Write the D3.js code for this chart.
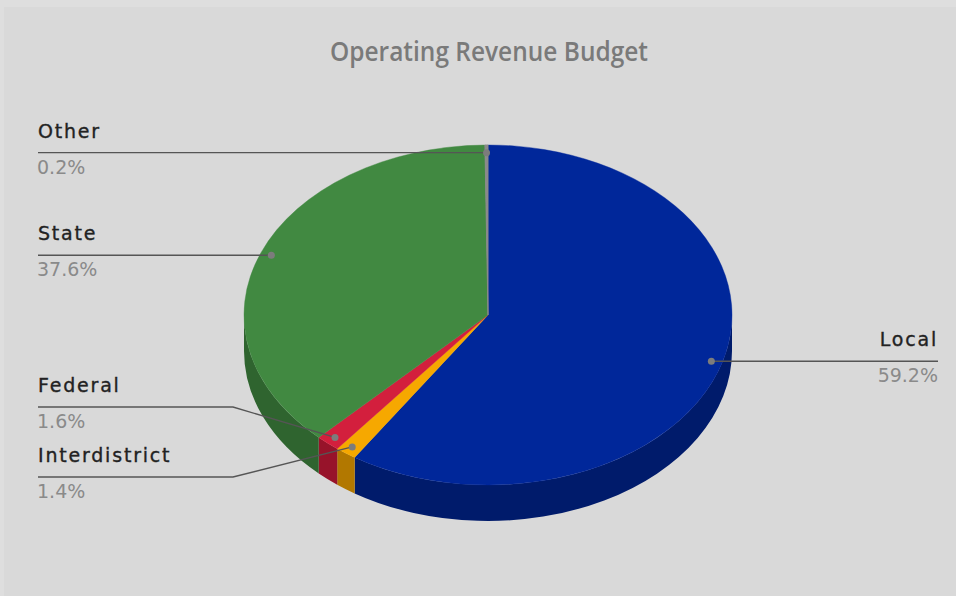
<!DOCTYPE html>
<html>
<head>
<meta charset="utf-8">
<script src="https://cdn.jsdelivr.net/npm/d3@7"></script>
<style>
  html, body { margin: 0; padding: 0; background: #dedede; }
  svg { display: block; }
</style>
</head>
<body>
<svg id="chart" width="956" height="596"></svg>
<script>
// Revenue sources, in drawing order (clockwise from 12 o'clock)
const categories = ["Local", "Interdistrict", "Federal", "State", "Other"];
const shares = [59.2, 1.4, 1.6, 37.6, 0.2];
const topColors = ["#00279a", "#f6a800", "#d31f3d", "#418941", "#8a8a8a"];
const sideColors = ["#001b6b", "#b27800", "#97132a", "#2f642f", "#666666"];

const W = 956, H = 596;
const svg = d3.select("#chart");

// panel background
svg.append("rect").attr("width", W).attr("height", H).attr("fill", "#dedede");
svg.append("rect").attr("x", 4).attr("y", 7).attr("width", W - 4).attr("height", H - 7).attr("fill", "#d9d9d9");

// title
svg.append("text")
  .attr("x", 489).attr("y", 61)
  .attr("text-anchor", "middle")
  .attr("font-family", "'Open Sans', 'Noto Sans', sans-serif")
  .attr("font-size", 27)
  .attr("font-weight", 600)
  .attr("textLength", 318)
  .attr("lengthAdjust", "spacingAndGlyphs")
  .attr("fill", "#7a7a7a")
  .text("Operating Revenue Budget");

// 3D pie geometry: tilted disc seen as an ellipse with a visible rim
const cx = 488, cy = 315, rx = 244, ry = 170, depth = 36;
const pt = (a, k = 1, dy = 0) => [cx + rx * k * Math.sin(a), cy - ry * k * Math.cos(a) + dy];

const pie = d3.pie().sort(null).value(d => d.v).startAngle(0).endAngle(2 * Math.PI);
const data = categories.map((c, i) => ({ c, v: shares[i], i }));
const arcs = pie(data);

const fmt = p => p.map(n => n.toFixed(2)).join(",");

// rim (front half only, angles between PI/2 and 3PI/2)
const rimLayer = svg.append("g");
arcs.forEach(a => {
  const s = Math.max(a.startAngle, Math.PI / 2);
  const e = Math.min(a.endAngle, 3 * Math.PI / 2);
  if (e <= s) return;
  const p0 = pt(s), p1 = pt(e), q1 = pt(e, 1, depth), q0 = pt(s, 1, depth);
  const d = `M${fmt(p0)} A${rx},${ry} 0 0 1 ${fmt(p1)} L${fmt(q1)} A${rx},${ry} 0 0 0 ${fmt(q0)} Z`;
  rimLayer.append("path").attr("d", d).attr("fill", sideColors[a.data.i]);
});

// top faces
const faceLayer = svg.append("g");
arcs.forEach(a => {
  const large = (a.endAngle - a.startAngle) > Math.PI ? 1 : 0;
  const d = `M${cx},${cy} L${fmt(pt(a.startAngle))} A${rx},${ry} 0 ${large} 1 ${fmt(pt(a.endAngle))} Z`;
  faceLayer.append("path").attr("d", d).attr("fill", topColors[a.data.i])
    .attr("stroke", topColors[a.data.i]).attr("stroke-width", a.data.v < 1 ? 1 : 0.4);
});

// data labels with connectors
const labelLeftX = 38, labelRightX = 938;
// vertical placement of left-side labels that would otherwise collide
const pushedLabelY = { Federal: 407, Interdistrict: 477 };
const crookX = 233;

const labelLayer = svg.append("g");
arcs.forEach(a => {
  const mid = (a.startAngle + a.endAngle) / 2;
  const anchor = pt(mid, 0.955);
  const right = Math.sin(mid) > 0;
  const lineY = pushedLabelY[a.data.c] !== undefined ? pushedLabelY[a.data.c] : anchor[1];
  const tx = right ? labelRightX : labelLeftX;

  let pts;
  if (pushedLabelY[a.data.c] !== undefined) {
    pts = [[tx, lineY], [crookX, lineY], anchor];
  } else {
    pts = [[tx, lineY], [anchor[0], lineY]];
  }
  labelLayer.append("path")
    .attr("d", d3.line()(pts))
    .attr("fill", "none").attr("stroke", "#555555").attr("stroke-width", 1.4);
  labelLayer.append("circle")
    .attr("cx", anchor[0]).attr("cy", anchor[1]).attr("r", 3.5).attr("fill", "#7c7c7c");

  labelLayer.append("text")
    .attr("x", tx).attr("y", lineY - 15)
    .attr("text-anchor", right ? "end" : "start")
    .attr("font-family", "'DejaVu Sans', sans-serif")
    .attr("font-size", 19)
    .attr("letter-spacing", 1.8)
    .attr("fill", "#222222")
    .attr("stroke", "#222222")
    .attr("stroke-width", 0.35)
    .text(a.data.c);
  labelLayer.append("text")
    .attr("x", right ? tx : tx - 1).attr("y", lineY + 21)
    .attr("text-anchor", right ? "end" : "start")
    .attr("font-family", "'DejaVu Sans', sans-serif")
    .attr("font-size", 19)
    .attr("fill", "#8a8a8a")
    .text(a.data.v.toFixed(1) + "%");
});
</script>
</body>
</html>
